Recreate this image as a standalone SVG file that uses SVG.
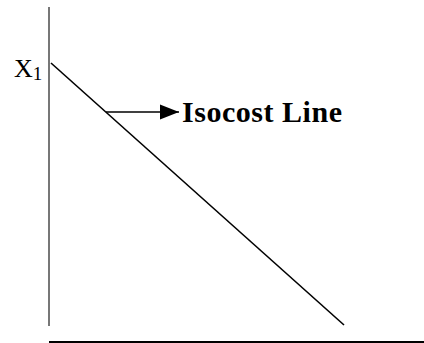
<svg xmlns="http://www.w3.org/2000/svg" width="424" height="343" viewBox="0 0 424 343">
<defs>
<style>
.lbl{font-family:"Liberation Serif","Times New Roman",serif;fill:#000}
.ln{stroke:#000;fill:none}
</style>
<marker id="ah" markerWidth="20" markerHeight="16" refX="19" refY="8" orient="auto" markerUnits="userSpaceOnUse">
<path d="M0,0.5 L19,8 L0,15.5 Z" fill="#000"/>
</marker>
</defs>
<rect width="424" height="343" fill="#fff"/>
<g id="axes">
<line x1="49" y1="7" x2="49" y2="326" stroke="#777" stroke-width="2"/>
<line x1="49" y1="342" x2="424" y2="342" stroke="#000" stroke-width="2"/>
</g>
<g id="isocost-line">
<line class="ln" x1="51" y1="63" x2="344" y2="325" stroke-width="1.6"/>
</g>
<g id="connectors">
<line class="ln" x1="106" y1="112" x2="179" y2="112" stroke-width="1.6" marker-end="url(#ah)"/>
</g>
<g id="label-x1">
<text class="lbl" x="14" y="77" font-size="26">X<tspan font-size="19" dy="3">1</tspan></text>
</g>
<g id="label-isocost">
<text class="lbl" x="182" y="122" font-size="30" font-weight="bold" textLength="160">Isocost Line</text>
</g>
</svg>
